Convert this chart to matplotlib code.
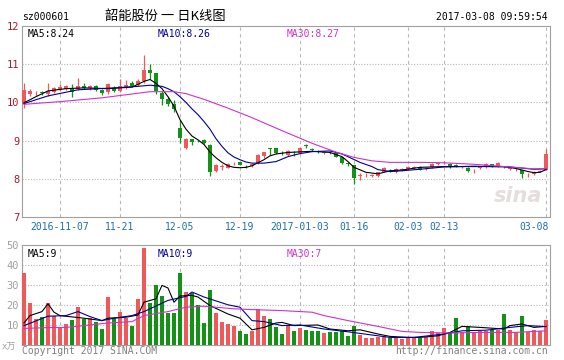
import numpy as np
import matplotlib
matplotlib.use("Agg")
import matplotlib.pyplot as plt

# ── Daily K-line data (韶能股份 sz000601) ──────────────────────────────────
opens  = [9.96, 10.22, 10.27, 10.28, 10.22, 10.28, 10.32, 10.35, 10.37, 10.35,
          10.43, 10.37, 10.42, 10.33, 10.26, 10.39, 10.30, 10.39, 10.52, 10.45,
          10.55, 10.84, 10.76, 10.24, 10.10, 9.95, 9.34, 8.80, 9.04, 9.00,
          9.02, 8.88, 8.21, 8.32, 8.29, 8.41, 8.44, 8.36, 8.33, 8.42,
          8.59, 8.80, 8.80, 8.68, 8.63, 8.68, 8.67, 8.87, 8.77, 8.74,
          8.68, 8.70, 8.67, 8.56, 8.40, 8.35, 8.07, 8.09, 8.08, 8.08,
          8.19, 8.24, 8.17, 8.24, 8.25, 8.27, 8.31, 8.27, 8.31, 8.39,
          8.41, 8.40, 8.37, 8.30, 8.29, 8.23, 8.28, 8.31, 8.38, 8.33,
          8.32, 8.26, 8.23, 8.22, 8.12, 8.12, 8.19, 8.24]
closes = [10.33, 10.30, 10.28, 10.24, 10.30, 10.37, 10.41, 10.42, 10.26, 10.43,
          10.37, 10.42, 10.33, 10.24, 10.48, 10.30, 10.42, 10.45, 10.43, 10.57,
          10.84, 10.76, 10.30, 10.10, 9.97, 9.82, 9.08, 9.05, 8.96, 8.99,
          8.93, 8.17, 8.36, 8.33, 8.39, 8.42, 8.37, 8.35, 8.39, 8.61,
          8.69, 8.78, 8.68, 8.67, 8.74, 8.67, 8.80, 8.86, 8.76, 8.69,
          8.69, 8.69, 8.58, 8.41, 8.39, 8.02, 8.10, 8.10, 8.09, 8.17,
          8.28, 8.23, 8.25, 8.25, 8.30, 8.31, 8.24, 8.28, 8.40, 8.40,
          8.42, 8.31, 8.33, 8.31, 8.20, 8.24, 8.31, 8.40, 8.33, 8.42,
          8.30, 8.27, 8.24, 8.12, 8.13, 8.18, 8.20, 8.66]
highs  = [10.52, 10.34, 10.30, 10.30, 10.52, 10.40, 10.48, 10.45, 10.48, 10.65,
          10.52, 10.45, 10.45, 10.36, 10.50, 10.42, 10.61, 10.58, 10.55, 10.60,
          11.23, 11.01, 10.78, 10.30, 10.15, 10.05, 9.54, 9.08, 9.05, 9.02,
          9.03, 8.90, 8.40, 8.40, 8.41, 8.45, 8.45, 8.37, 8.41, 8.64,
          8.71, 8.81, 8.81, 8.72, 8.76, 8.72, 8.82, 8.92, 8.80, 8.76,
          8.73, 8.72, 8.69, 8.58, 8.42, 8.37, 8.16, 8.14, 8.12, 8.19,
          8.30, 8.26, 8.27, 8.28, 8.33, 8.34, 8.33, 8.30, 8.42, 8.44,
          8.47, 8.42, 8.39, 8.34, 8.31, 8.26, 8.33, 8.42, 8.40, 8.44,
          8.34, 8.30, 8.27, 8.24, 8.16, 8.20, 8.23, 8.77]
lows   = [9.85, 10.18, 10.17, 10.20, 10.18, 10.25, 10.30, 10.32, 10.13, 10.33,
          10.35, 10.33, 10.30, 10.20, 10.22, 10.28, 10.28, 10.36, 10.40, 10.42,
          10.50, 10.62, 10.21, 9.92, 9.90, 9.75, 8.95, 8.78, 8.88, 8.97,
          8.90, 8.08, 8.18, 8.22, 8.27, 8.36, 8.35, 8.28, 8.31, 8.40,
          8.55, 8.62, 8.66, 8.62, 8.60, 8.60, 8.65, 8.80, 8.72, 8.67,
          8.64, 8.66, 8.56, 8.40, 8.34, 7.87, 7.98, 8.05, 8.05, 8.05,
          8.17, 8.19, 8.15, 8.20, 8.23, 8.25, 8.22, 8.24, 8.29, 8.35,
          8.38, 8.29, 8.31, 8.27, 8.18, 8.15, 8.26, 8.29, 8.31, 8.31,
          8.27, 8.22, 8.20, 8.03, 8.06, 8.10, 8.17, 8.22]
volumes = [35.8, 20.8, 13.0, 14.2, 21.0, 14.5, 9.0, 10.3, 12.5, 19.2,
           12.8, 13.5, 11.5, 7.8, 24.0, 13.3, 16.5, 13.3, 9.3, 23.0,
           48.3, 21.0, 30.0, 24.5, 16.2, 16.2, 36.2, 26.3, 26.0, 20.0,
           11.2, 27.5, 16.2, 11.7, 10.5, 9.5, 7.2, 5.5, 7.2, 17.8,
           14.5, 13.0, 9.2, 5.5, 10.0, 7.1, 8.3, 7.6, 7.1, 7.1,
           6.0, 6.3, 6.3, 7.1, 4.6, 9.7, 5.1, 3.5, 3.3, 4.2,
           4.5, 3.3, 4.0, 3.0, 4.0, 4.2, 3.5, 4.2, 7.1, 6.0,
           8.3, 6.5, 13.5, 6.3, 9.5, 6.3, 7.1, 7.1, 7.6, 7.6,
           15.5, 7.6, 6.5, 14.5, 6.3, 7.6, 7.1, 12.3]

# moving-average lines at these candle positions
ma5_idx  = [0, 2, 4, 7, 10, 14, 18, 20, 21, 22, 23, 24, 25, 26, 27, 28, 29, 30, 31, 32,
            33, 34, 35, 36, 37, 38, 39, 40, 41, 42, 44, 48, 51, 53, 54, 55, 57, 59, 61, 63,
            66, 70, 75, 80, 82, 84, 85, 86, 87]
ma5_val  = [9.99, 10.15, 10.30, 10.36, 10.38, 10.36, 10.40, 10.55, 10.60, 10.50, 10.36, 10.15,
            9.90, 9.55, 9.30, 9.12, 9.02, 8.90, 8.70, 8.55, 8.43, 8.34, 8.30, 8.29, 8.30, 8.34,
            8.42, 8.50, 8.60, 8.65, 8.69, 8.72, 8.69, 8.58, 8.45, 8.30, 8.17, 8.13, 8.21, 8.23,
            8.30, 8.32, 8.32, 8.32, 8.27, 8.19, 8.16, 8.17, 8.24]
ma10_idx = [0, 4, 9, 15, 19, 21, 23, 24, 25, 26, 27, 28, 29, 30, 31, 32, 33, 34, 35, 36,
            37, 38, 40, 42, 44, 46, 48, 51, 53, 54, 56, 58, 59, 61, 63, 66, 70, 75, 81, 85, 87]
ma10_val = [9.97, 10.17, 10.33, 10.38, 10.42, 10.45, 10.42, 10.36, 10.28, 10.15, 10.00, 9.83,
            9.68, 9.50, 9.30, 9.05, 8.85, 8.68, 8.57, 8.50, 8.44, 8.41, 8.41, 8.45, 8.58, 8.66,
            8.71, 8.73, 8.65, 8.58, 8.43, 8.32, 8.24, 8.19, 8.21, 8.25, 8.31, 8.33, 8.31, 8.25,
            8.26]
ma30_idx = [0, 6, 13, 18, 21, 25, 27, 30, 34, 38, 43, 48, 52, 55, 58, 61, 66, 70, 75, 81, 85, 87]
ma30_val = [9.95, 10.02, 10.12, 10.22, 10.28, 10.28, 10.23, 10.08, 9.85, 9.60, 9.26, 8.93,
            8.70, 8.56, 8.47, 8.43, 8.43, 8.42, 8.38, 8.31, 8.26, 8.27]

vma5_idx  = [0, 1, 3, 4, 5, 6, 10, 13, 14, 17, 19, 20, 22, 23, 24, 25, 26, 28, 29, 31,
             34, 36, 38, 40, 42, 43, 45, 49, 51, 54, 56, 59, 61, 64, 66, 69, 71, 73, 76, 80,
             81, 83, 85, 87]
vma5_val  = [11.0, 14.7, 16.7, 20.6, 16.4, 14.7, 13.4, 12.2, 13.4, 13.9, 15.0, 21.4, 23.1,
             29.8, 28.5, 21.4, 24.5, 24.8, 24.0, 19.7, 15.5, 13.4, 7.6, 8.8, 11.0, 11.3, 9.7,
             10.0, 8.0, 7.1, 7.6, 5.5, 4.3, 3.8, 3.8, 4.6, 6.3, 9.3, 8.8, 8.0, 9.7, 10.5, 8.8,
             9.3]
vma10_idx = [0, 4, 7, 9, 11, 13, 15, 18, 20, 24, 27, 28, 30, 34, 36, 38, 40, 43, 46, 50,
             54, 59, 61, 65, 70, 73, 77, 81, 84, 87]
vma10_val = [9.7, 14.4, 14.7, 16.7, 14.2, 12.2, 13.4, 14.7, 16.7, 22.3, 24.3, 26.5, 24.0,
             20.1, 18.9, 12.2, 11.7, 9.7, 10.0, 8.0, 6.6, 4.6, 3.8, 3.8, 5.5, 7.1, 7.4, 8.8,
             9.7, 9.2]
vma30_idx = [0, 4, 7, 10, 14, 18, 20, 24, 27, 30, 35, 38, 43, 48, 50, 54, 59, 63, 66, 71,
             76, 82, 87]
vma30_val = [8.3, 8.7, 8.8, 9.7, 11.0, 11.7, 14.7, 16.7, 18.9, 19.4, 18.1, 17.7, 17.2, 16.4,
             14.7, 12.2, 9.3, 6.8, 6.3, 6.0, 6.3, 6.3, 7.1]

date_idx    = [6, 16, 26, 36, 46, 55, 64, 70, 87]
date_labels = ["2016-11-07", "11-21", "12-05", "12-19", "2017-01-03",
               "01-16", "02-03", "02-13", "03-08"]

# ── Styling ────────────────────────────────────────────────────────────────
RED, GREEN = "#f0595a", "#149216"
GRID = "#b8b8b8"
MONO = "DejaVu Sans Mono"
W, H = 564, 360

fig = plt.figure(figsize=(W / 100, H / 100), dpi=100)


def box(x0, y0, x1, y1):
    # pixel box (top-left origin) -> figure fraction rect
    return [x0 / W, 1 - y1 / H, (x1 - x0) / W, (y1 - y0) / H]


def ftext(x, y, s, **kw):
    fig.text(x / W, 1 - y / H, s, **kw)


ax = fig.add_axes(box(22, 26, 550, 217))
axv = fig.add_axes(box(22, 245, 550, 345))

n = len(closes)
xs = np.arange(n)
colors = [RED if c >= o else GREEN for o, c in zip(opens, closes)]
xlim = (-0.33, 87.67)

# price panel
for i in range(n):
    ax.vlines(xs[i], lows[i], highs[i], color=colors[i], lw=0.9, zorder=3)
    lo, hi = min(opens[i], closes[i]), max(opens[i], closes[i])
    ax.bar(xs[i], max(hi - lo, 0.012), bottom=lo, width=0.75, color=colors[i],
           lw=0, zorder=3)
ax.plot(ma5_idx, ma5_val, color="black", lw=0.8, zorder=4)
ax.plot(ma10_idx, ma10_val, color="#000099", lw=0.8, zorder=4)
ax.plot(ma30_idx, ma30_val, color="#cc33cc", lw=0.8, zorder=4)

ax.set_xlim(*xlim)
ax.set_ylim(7, 12)
for lvl in [8, 9, 10, 11]:
    ax.axhline(lvl, color=GRID, lw=0.8, ls=(0, (1, 1.5)), zorder=1)
ax.set_yticks([7, 8, 9, 10, 11, 12])
ax.set_yticklabels(["7", "8", "9", "10", "11", "12"], color="#a8182e",
                   fontsize=7.5, family=MONO)

# volume panel
axv.bar(xs, volumes, width=0.82, color=colors, lw=0, zorder=3)
axv.plot(vma5_idx, vma5_val, color="black", lw=0.8, zorder=4)
axv.plot(vma10_idx, vma10_val, color="#000099", lw=0.8, zorder=4)
axv.plot(vma30_idx, vma30_val, color="#cc33cc", lw=0.8, zorder=4)
axv.set_xlim(*xlim)
axv.set_ylim(0, 50)
for lvl in [10, 20, 30, 40]:
    axv.axhline(lvl, color=GRID, lw=0.8, ls=(0, (1, 1.5)), zorder=1)
axv.set_yticks([10, 20, 30, 40, 50])
axv.set_yticklabels(["10", "20", "30", "40", "50"], color="#a0a0a0",
                    fontsize=7.5, family=MONO)

for a in (ax, axv):
    for d in date_idx:
        a.axvline(d, color=GRID, lw=0.8, ls=(0, (3, 3)), zorder=1)
    a.set_xticks([])
    a.tick_params(axis="y", length=0, pad=2)
    for sp in a.spines.values():
        sp.set_color("#a0a0a0")
        sp.set_linewidth(0.8)

# date labels under the price panel
for d, lab in zip(date_idx, date_labels):
    ha = "right" if d == date_idx[-1] else "center"
    xx = d + 0.4 if ha == "right" else d
    ax.text(xx, -0.028, lab, transform=ax.get_xaxis_transform(), ha=ha, va="top",
            color="#1f6db3", fontsize=7, family=MONO)

# MA legends
ax.text(0.01, 0.985, "MA5:8.24", transform=ax.transAxes, va="top", fontsize=7,
        family=MONO, color="black")
ax.text(0.256, 0.985, "MA10:8.26", transform=ax.transAxes, va="top", fontsize=7,
        family=MONO, color="#000099")
ax.text(0.502, 0.985, "MA30:8.27", transform=ax.transAxes, va="top", fontsize=7,
        family=MONO, color="#cc33cc")
axv.text(0.01, 0.96, "MA5:9", transform=axv.transAxes, va="top", fontsize=7,
         family=MONO, color="black")
axv.text(0.256, 0.96, "MA10:9", transform=axv.transAxes, va="top", fontsize=7,
         family=MONO, color="#000099")
axv.text(0.502, 0.96, "MA30:7", transform=axv.transAxes, va="top", fontsize=7,
         family=MONO, color="#cc33cc")

# sina watermark
ax.text(0.985, 0.06, "sina", transform=ax.transAxes, ha="right", va="bottom",
        fontsize=15, fontweight="bold", style="italic", color="#e6dede", zorder=2)

# header / footer
ftext(22, 17, "sz000601", fontsize=7, family=MONO, va="center")
ftext(165, 16, "韶能股份 一 日K线图", fontsize=9.5, ha="center", va="center",
      family=["Noto Sans CJK SC", "DejaVu Sans"])
ftext(548, 17, "2017-03-08 09:59:54", fontsize=7, family=MONO, ha="right", va="center")
ftext(2, 347, "x万", fontsize=6.5, color="#a0a0a0", va="center",
      family=["DejaVu Sans Mono", "Noto Sans CJK SC"])
ftext(22, 351, "Copyright 2017 SINA.COM", fontsize=7, family=MONO, color="#808080",
      va="center")
ftext(548, 351, "http://finance.sina.com.cn", fontsize=7, family=MONO, color="#808080",
      ha="right", va="center")

fig.savefig("out.png", dpi=100)
